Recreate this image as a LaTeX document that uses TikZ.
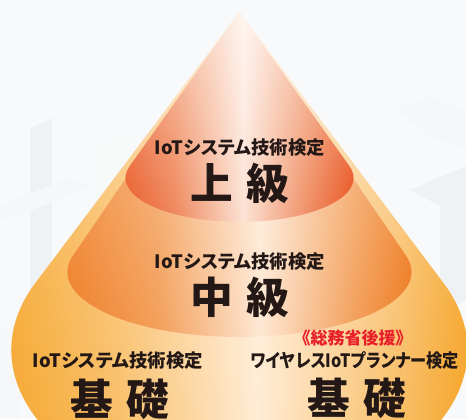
\documentclass[tikz,border=0pt]{standalone}
\usepackage{fontspec}
\newfontfamily\jpfont{Noto Sans CJK JP}[RawFeature=+palt]
\usetikzlibrary{fadings}

\definecolor{paper}{HTML}{F8F9FA}
\definecolor{haze}{HTML}{EFF2F4}
\definecolor{inkgray}{HTML}{231815}
\definecolor{support}{HTML}{E8202A}
% upper tier
\definecolor{topedge}{HTML}{F29A76}
\definecolor{topmid}{HTML}{F8C6AD}
\definecolor{topcore}{HTML}{FFF6F1}
\definecolor{topedgeD}{HTML}{E94F1B}
\definecolor{topmidD}{HTML}{EF875B}
\definecolor{topcoreD}{HTML}{FCE2D4}
% middle tier
\definecolor{midedge}{HTML}{F5A264}
\definecolor{midmid}{HTML}{F9C79C}
\definecolor{midcore}{HTML}{FFF4E9}
\definecolor{midedgeD}{HTML}{EE781B}
\definecolor{midmidD}{HTML}{F39E58}
\definecolor{midcoreD}{HTML}{FEE8D4}
% base tier
\definecolor{lowedge}{HTML}{F8B44C}
\definecolor{lowmid}{HTML}{FBD59E}
\definecolor{lowcore}{HTML}{FFF5E8}
\definecolor{lowedgeD}{HTML}{F59E18}
\definecolor{lowmidD}{HTML}{F9BB5E}
\definecolor{lowcoreD}{HTML}{FFEAD1}

\pgfdeclarehorizontalshading{topflat}{100bp}{color(0bp)=(topedge); color(25bp)=(topedge); color(38bp)=(topmid); color(52bp)=(topcore); color(66bp)=(topmid); color(75bp)=(topedge); color(100bp)=(topedge)}
\pgfdeclarehorizontalshading{topdeep}{100bp}{color(0bp)=(topedgeD); color(25bp)=(topedgeD); color(38bp)=(topmidD); color(52bp)=(topcoreD); color(66bp)=(topmidD); color(75bp)=(topedgeD); color(100bp)=(topedgeD)}
\pgfdeclarehorizontalshading{midflat}{100bp}{color(0bp)=(midedge); color(25bp)=(midedge); color(40bp)=(midmid); color(54bp)=(midcore); color(67bp)=(midmid); color(75bp)=(midedge); color(100bp)=(midedge)}
\pgfdeclarehorizontalshading{middeep}{100bp}{color(0bp)=(midedgeD); color(25bp)=(midedgeD); color(40bp)=(midmidD); color(54bp)=(midcoreD); color(67bp)=(midmidD); color(75bp)=(midedgeD); color(100bp)=(midedgeD)}
\pgfdeclarehorizontalshading{lowflat}{100bp}{color(0bp)=(lowedge); color(25bp)=(lowedge); color(39bp)=(lowmid); color(53bp)=(lowcore); color(67bp)=(lowmid); color(75bp)=(lowedge); color(100bp)=(lowedge)}
\pgfdeclarehorizontalshading{lowdeep}{100bp}{color(0bp)=(lowedgeD); color(25bp)=(lowedgeD); color(39bp)=(lowmidD); color(53bp)=(lowcoreD); color(67bp)=(lowmidD); color(75bp)=(lowedgeD); color(100bp)=(lowedgeD)}

\tikzfading[name=tierfade, top color=transparent!100, middle color=transparent!60, bottom color=transparent!0]

\begin{document}
\begin{tikzpicture}[x=0.75pt,y=0.75pt,yscale=-1,xscale=1,
    caption/.style={font=\jpfont\bfseries\fontsize{13.8}{15}\selectfont, text=inkgray, inner sep=0.75pt},
    grade/.style={font=\jpfont\bfseries\fontsize{32}{35}\selectfont, text=inkgray, inner sep=0.75pt},
    backer/.style={font=\jpfont\bfseries\fontsize{12.75}{14}\selectfont, text=support, inner sep=0.75pt}]
\useasboundingbox (0,0) rectangle (466,419);
\fill[paper] (0,0) rectangle (466,419);

% faint board drawing behind the cone
\fill[haze] (30,128) -- (52,118) -- (52,300) -- (30,310) -- cycle;
\fill[haze!60] (0,205) -- (70,178) -- (92,186) -- (22,214) -- (0,222) -- cycle;
\fill[haze!50] (96,150) -- (128,136) -- (128,250) -- (96,264) -- cycle;
\fill[haze!60] (395,110) -- (430,96) -- (466,112) -- (466,150) -- (430,136) -- cycle;
\fill[haze] (410,190) -- (466,166) -- (466,300) -- (440,312) -- (440,206) -- cycle;
\fill[haze!60] (0,330) -- (20,322) -- (20,419) -- (0,419) -- cycle;

% base tier
\shade[shading=lowflat] (239.5,12) -- (35.2,283.4) arc[start angle=206.35, end angle=-26.35, x radius=228, y radius=150] -- cycle;
\shade[shading=lowdeep, path fading=tierfade] (239.5,12) -- (35.2,283.4) arc[start angle=206.35, end angle=-26.35, x radius=228, y radius=150] -- cycle;

% middle tier
\shade[shading=midflat] (239.5,12) -- (73,255.75) arc[start angle=194.48, end angle=-14.48, x radius=172, y radius=65] -- cycle;
\shade[shading=middeep, path fading=tierfade] (239.5,12) -- (73,255.75) arc[start angle=194.48, end angle=-14.48, x radius=172, y radius=65] -- cycle;

% upper tier
\shade[shading=topflat] (239.5,12) -- (129.6,166.3) arc[start angle=195.37, end angle=-15.37, x radius=114, y radius=44] -- cycle;
\shade[shading=topdeep, path fading=tierfade] (239.5,12) -- (129.6,166.3) arc[start angle=195.37, end angle=-15.37, x radius=114, y radius=44] -- cycle;

% labels
\node[caption] (top_name) at (240,147.5) {IoTシステム技術検定};
\node[grade] (top_grade) at (240,183) {上\hspace{10pt}級};
\node[caption] (mid_name) at (240,262) {IoTシステム技術検定};
\node[grade] (mid_grade) at (240,297.5) {中\hspace{10pt}級};
\node[caption] (low_name) at (118,360.5) {IoTシステム技術検定};
\node[grade] (low_grade) at (120,399) {基\hspace{10pt}礎};
\node[backer] (wl_backer) at (353,338) {《総務省後援》};
\node[caption] (wl_name) at (355,360.5) {\scalebox{0.88}[1]{ワイヤレスIoTプランナー検定}};
\node[grade] (wl_grade) at (356.5,398) {基\hspace{10pt}礎};
\end{tikzpicture}
\end{document}
